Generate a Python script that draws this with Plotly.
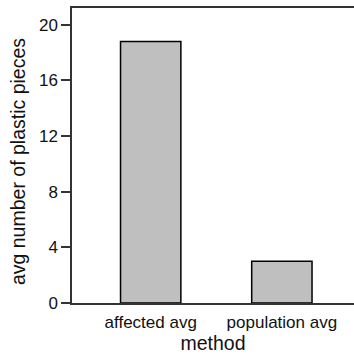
import plotly.graph_objects as go

categories = ["affected avg", "population avg"]
values = [18.8, 3.0]
y_ticks = [0, 4, 8, 12, 16, 20]

fig = go.Figure()
fig.add_trace(go.Bar(
    x=categories, y=values,
    marker=dict(color="#bfbfbf", line=dict(color="#000000", width=1.5)),
    width=0.46,
))

axis_color = "#333333"
text_color = "#111111"
fig.update_layout(
    template="none",
    width=354, height=357,
    margin=dict(l=72, r=0, t=8, b=54),
    paper_bgcolor="white", plot_bgcolor="white",
    font=dict(family="Liberation Sans, Arial, sans-serif", color=text_color, size=17),
    showlegend=False,
    xaxis=dict(
        range=[-0.6, 1.55], showline=True, linecolor=axis_color, linewidth=1.5,
        mirror=True, ticks="", showgrid=False, zeroline=False, automargin=False,
        tickfont=dict(size=17, color=text_color), ticklabelstandoff=3,
        title=dict(text="method", font=dict(size=19.5, color=text_color), standoff=5),
    ),
    yaxis=dict(
        range=[0, 21.2], showline=True, linecolor=axis_color, linewidth=1.5,
        ticks="outside", ticklen=9, tickwidth=1.5, tickcolor=axis_color,
        tickvals=y_ticks, showgrid=False, zeroline=False, automargin=False,
        tickfont=dict(size=17, color=text_color),
    ),
    annotations=[dict(
        text="avg number of plastic pieces", textangle=-90,
        xref="paper", yref="paper", x=-0.1915, y=0.481,
        xanchor="center", yanchor="middle", showarrow=False,
        font=dict(size=19.5, color=text_color),
    )],
)
fig.write_html(
    "out.html",
    config={"displayModeBar": False},
    post_script="document.body.style.margin='0';document.body.style.overflow='hidden';",
)
